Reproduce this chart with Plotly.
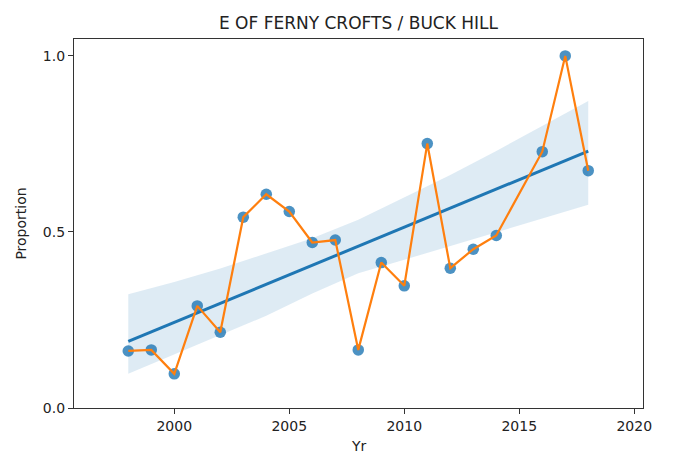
import numpy as np
import plotly.graph_objects as go

# Observed data
years = [1998, 1999, 2000, 2001, 2002, 2003, 2004, 2005, 2006, 2007,
         2008, 2009, 2010, 2011, 2012, 2013, 2014, 2016, 2017, 2018]
proportion = [0.162, 0.165, 0.097, 0.290, 0.215, 0.542, 0.607, 0.558, 0.470, 0.477,
              0.165, 0.413, 0.347, 0.751, 0.397, 0.451, 0.490, 0.728, 1.000, 0.674]

# Confidence band edges
band_years = [1998, 2000, 2002, 2004, 2006, 2008, 2010, 2012, 2014, 2016, 2018]
band_upper = [0.323, 0.358, 0.396, 0.440, 0.482, 0.535, 0.598, 0.662, 0.730, 0.800, 0.872]
band_lower = [0.097, 0.152, 0.207, 0.262, 0.325, 0.383, 0.421, 0.460, 0.499, 0.537, 0.577]

title_text = "E OF FERNY CROFTS / BUCK HILL"
x_label = "Yr"
y_label = "Proportion"
x_ticks = [2000, 2005, 2010, 2015, 2020]
y_ticks = [0.0, 0.5, 1.0]

# Linear regression fit (as seaborn regplot)
slope, intercept = np.polyfit(years, proportion, 1)
fit_x = [min(years), max(years)]
fit_y = [intercept + slope * v for v in fit_x]

BLUE = "#1f77b4"
ORANGE = "#ff7f0e"
FONT = "DejaVu Sans"

# page body has an 8px default margin; figure is sized to fit the window
W, H = 666, 447
M_T, M_B = 31, 47
PLOT_H = H - M_T - M_B

fig = go.Figure()
fig.add_trace(go.Scatter(x=band_years, y=band_lower, mode="lines",
                         line=dict(width=0, color=BLUE), showlegend=False, hoverinfo="skip"))
fig.add_trace(go.Scatter(x=band_years, y=band_upper, mode="lines",
                         line=dict(width=0, color=BLUE), fill="tonexty",
                         fillcolor="rgba(31,119,180,0.15)", showlegend=False, hoverinfo="skip"))
fig.add_trace(go.Scatter(x=fit_x, y=fit_y, mode="lines",
                         line=dict(width=3, color=BLUE), showlegend=False))
fig.add_trace(go.Scatter(x=years, y=proportion, mode="markers",
                         marker=dict(size=11.5, color=BLUE, opacity=0.8, line=dict(width=0)),
                         showlegend=False))
fig.add_trace(go.Scatter(x=years, y=proportion, mode="lines",
                         line=dict(width=2.2, color=ORANGE), showlegend=False))

axis_common = dict(showline=True, linecolor="#333333", linewidth=1.2, mirror=True,
                   ticks="outside", ticklen=5, tickwidth=1.2, tickcolor="#333333",
                   showgrid=False, zeroline=False, automargin=False,
                   tickfont=dict(family=FONT, size=14, color="#222222"))

fig.update_layout(
    width=W, height=H,
    margin=dict(l=66, r=31, t=M_T, b=M_B),
    paper_bgcolor="white", plot_bgcolor="white",
    font=dict(family=FONT, color="#222222"),
    title=dict(text=title_text, x=0.5, xref="paper", xanchor="center",
               y=1 - 15 / H, yref="container", yanchor="middle",
               font=dict(family=FONT, size=17, color="#222222")),
    xaxis=dict(range=[1995.64, 2020.38], tickvals=x_ticks, **axis_common),
    yaxis=dict(range=[0, 1.048], tickvals=y_ticks, tickformat=".1f",
               title=dict(text=y_label, standoff=12, font=dict(family=FONT, size=14)),
               **axis_common),
    annotations=[dict(text=x_label, xref="paper", yref="paper", x=0.5, y=-38 / PLOT_H,
                      xanchor="center", yanchor="middle", showarrow=False,
                      font=dict(family=FONT, size=14, color="#222222"))],
)

fig.write_html("out.html")
